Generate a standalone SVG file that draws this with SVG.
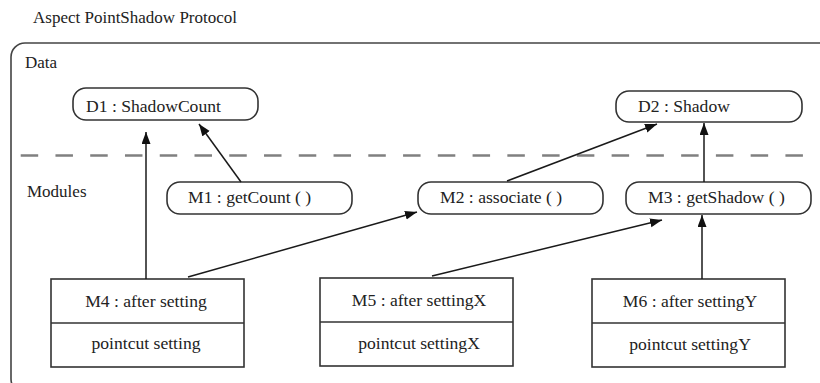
<svg xmlns="http://www.w3.org/2000/svg" width="820" height="383" viewBox="0 0 820 383">
<style>
text{font-family:"Liberation Serif","Times New Roman",serif;font-size:17px;fill:#222}
g text{font-size:17.6px}
.box{fill:#fff;stroke:#333;stroke-width:1.6}
.div{stroke:#333;stroke-width:1.6}
.c{text-anchor:middle}
.con line{stroke:#1a1a1a;stroke-width:1.5;marker-end:url(#ah)}
</style>
<defs>
<marker id="ah" markerUnits="userSpaceOnUse" markerWidth="13" markerHeight="10" refX="12" refY="4.5" orient="auto">
<path d="M0,0 L12,4.5 L0,9 z" fill="#111"/>
</marker>
</defs>
<rect width="820" height="383" fill="#fff"/>
<text x="33" y="23">Aspect PointShadow Protocol</text>
<rect x="11" y="43" width="830" height="350" rx="14" fill="none" stroke="#444" stroke-width="1.6"/>
<text x="25" y="68">Data</text>
<text x="27" y="197">Modules</text>
<line x1="20.7" y1="155.5" x2="820" y2="155.5" stroke="#808080" stroke-width="2.6" stroke-dasharray="17.5 17.26"/>

<g id="D1"><rect class="box" x="73" y="88" width="185" height="32" rx="13"/><text x="86" y="112">D1 : ShadowCount</text></g>
<g id="D2"><rect class="box" x="616" y="91" width="186" height="31" rx="13"/><text x="638" y="112">D2 : Shadow</text></g>
<g id="M1"><rect class="box" x="167" y="182" width="185" height="32" rx="13"/><text x="188" y="203">M1 : getCount ( )</text></g>
<g id="M2"><rect class="box" x="418" y="182" width="185" height="32" rx="13"/><text x="440" y="203">M2 : associate ( )</text></g>
<g id="M3"><rect class="box" x="626" y="182" width="185" height="32" rx="13"/><text x="648" y="203">M3 : getShadow ( )</text></g>
<g id="M4"><rect class="box" x="51" y="279" width="193" height="88"/><line class="div" x1="51" y1="323" x2="244" y2="323"/><text class="c" x="146" y="307">M4 : after setting</text><text class="c" x="146" y="349">pointcut setting</text></g>
<g id="M5"><rect class="box" x="320" y="278" width="193" height="88"/><line class="div" x1="320" y1="322" x2="513" y2="322"/><text class="c" x="419" y="306">M5 : after settingX</text><text class="c" x="419" y="349">pointcut settingX</text></g>
<g id="M6"><rect class="box" x="592" y="279" width="193" height="88"/><line class="div" x1="592" y1="323" x2="785" y2="323"/><text class="c" x="690" y="307">M6 : after settingY</text><text class="c" x="690" y="350">pointcut settingY</text></g>

<g class="con" id="connectors">
<line x1="146" y1="279" x2="146" y2="132"/>
<line x1="241" y1="182" x2="199" y2="124"/>
<line x1="188" y1="277" x2="417" y2="212"/>
<line x1="507" y1="181" x2="657" y2="124"/>
<line x1="432" y1="276" x2="662" y2="220"/>
<line x1="702" y1="279" x2="702" y2="215"/>
<line x1="704" y1="182" x2="704" y2="123"/>
</g>
</svg>
